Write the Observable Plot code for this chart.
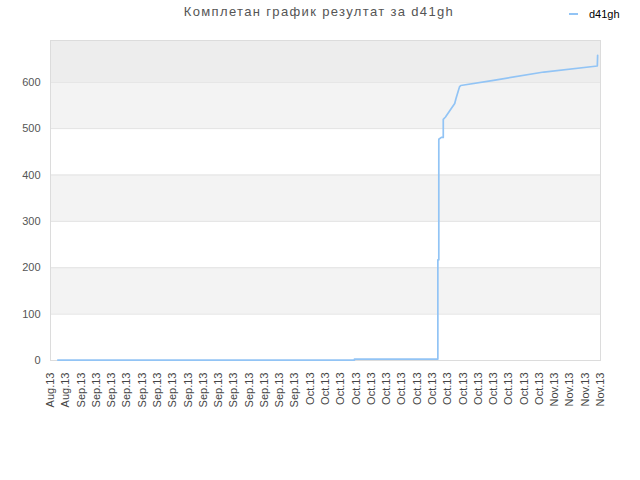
<!DOCTYPE html>
<html>
<head>
<meta charset="utf-8">
<script src="https://cdn.jsdelivr.net/npm/d3@7"></script>
<script src="https://cdn.jsdelivr.net/npm/@observablehq/plot@0.6"></script>
<style>
  body { margin: 0; background: white; }
  #wrap { position: relative; width: 640px; height: 480px; font-family: "Liberation Sans", Arial, sans-serif; }
  #title { position: absolute; top: 4px; left: 0; width: 638px; text-align: center; font-size: 13px; color: #555; letter-spacing: 1.35px; }
  #legend { position: absolute; top: 8px; left: 569px; font-size: 11px; color: #000; display: flex; align-items: center; }
  #legend .sw { width: 9px; height: 2px; background: #92c4f5; margin-right: 11px; }
  #chart { position: absolute; top: 0; left: 0; }
</style>
</head>
<body>
<div id="wrap">
  <div id="chart"></div>
  <div id="title">Комплетан график резултат за d41gh</div>
  <div id="legend"><span class="sw"></span><span>d41gh</span></div>
</div>
<script>
const seriesName = "d41gh";
const times = [
  "2013-08-28T23:00", "2013-10-06T19:00", "2013-10-06T19:00", "2013-10-17T17:00",
  "2013-10-17T17:00", "2013-10-17T20:00", "2013-10-17T20:00", "2013-10-18T04:00",
  "2013-10-18T10:00", "2013-10-18T10:00", "2013-10-18T17:00", "2013-10-19T08:00",
  "2013-10-19T22:00", "2013-10-20T02:00", "2013-10-20T07:00", "2013-10-20T13:00",
  "2013-10-20T17:00", "2013-10-25T00:00", "2013-10-31T14:00", "2013-11-07T14:00",
  "2013-11-07T15:00"
];
const values = [
  1, 1, 3, 3,
  217, 217, 477, 481,
  481, 520, 525, 540,
  554, 565, 576, 590,
  593, 604, 622, 635,
  658
];
const tickTimes = [
  "2013-08-28", "2013-08-30", "2013-09-01", "2013-09-03", "2013-09-05", "2013-09-07",
  "2013-09-09", "2013-09-11", "2013-09-13", "2013-09-15", "2013-09-17", "2013-09-19",
  "2013-09-21", "2013-09-23", "2013-09-25", "2013-09-27", "2013-09-29", "2013-10-01",
  "2013-10-03", "2013-10-05", "2013-10-07", "2013-10-09", "2013-10-11", "2013-10-13",
  "2013-10-15", "2013-10-17", "2013-10-19", "2013-10-21", "2013-10-23", "2013-10-25",
  "2013-10-27", "2013-10-29", "2013-10-31", "2013-11-02", "2013-11-04", "2013-11-06",
  "2013-11-08"
];
const yTicks = [0, 100, 200, 300, 400, 500, 600];
const bandLow = [100, 300, 500, 600];
const bandHigh = [200, 400, 600, 690];
const bandFill = ["#f3f3f3", "#f3f3f3", "#f3f3f3", "#ededed"];

const parse = s => new Date(s.length <= 10 ? s + "T00:00Z" : s + "Z");
const data = times.map((t, i) => ({date: parse(t), value: values[i]}));
const ticks = tickTimes.map(parse);
const xStart = ticks[0], xEnd = ticks[ticks.length - 1];
const bands = bandLow.map((lo, i) => ({lo, hi: bandHigh[i], fill: bandFill[i]}));

const chart = Plot.plot({
  width: 640,
  height: 480,
  marginLeft: 50,
  marginRight: 40,
  marginTop: 40,
  marginBottom: 120,
  style: {fontFamily: "'Liberation Sans', Arial, sans-serif", fontSize: "11px", color: "#555", background: "white"},
  x: {type: "utc", domain: [xStart, xEnd]},
  y: {domain: [0, 690]},
  marks: [
    Plot.rect(bands, {x1: () => xStart, x2: () => xEnd, y1: "lo", y2: "hi", fill: "fill"}),
    Plot.ruleY(yTicks, {stroke: "#e2e2e2"}),
    Plot.frame({stroke: "#dcdcdc"}),
    Plot.line(data, {x: "date", y: "value", stroke: "#92c4f5", strokeWidth: 1.7}),
    Plot.axisX({ticks: ticks, tickFormat: d3.utcFormat("%b.%y"), tickRotate: -90, tickSize: 0, tickPadding: 12, label: null, fill: "#444"}),
    Plot.axisY({ticks: yTicks, tickSize: 0, tickPadding: 10, label: null, fill: "#555"})
  ]
});
document.getElementById("chart").appendChild(chart);
</script>
</body>
</html>
